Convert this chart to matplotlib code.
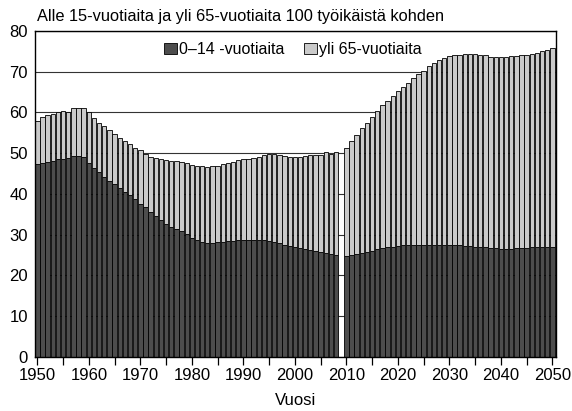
import matplotlib
matplotlib.use('Agg')
import matplotlib.pyplot as plt
from matplotlib.ticker import MultipleLocator

plt.rcParams['font.family'] = ['Liberation Sans', 'DejaVu Sans']

# vuodet: 1950-2008 toteutunut, 2010-2050 ennuste (2009 puuttuu -> rako)
vuodet = list(range(1950, 2009)) + list(range(2010, 2051))

# 0-14 -vuotiaita 100 työikäistä kohden
lapset = [47.4, 47.5, 47.9, 48.2, 48.5, 48.6, 48.8, 49.3, 49.3, 49.1,
          47.7, 46.5, 45.3, 44.2, 43.2, 42.4, 41.4, 40.6, 39.7, 38.7,
          37.6, 36.8, 35.7, 34.6, 33.6, 32.7, 31.9, 31.3, 30.8, 30.1,
          29.3, 28.6, 28.2, 28.0, 28.0, 28.2, 28.3, 28.4, 28.5, 28.6,
          28.6, 28.7, 28.7, 28.7, 28.6, 28.5, 28.3, 27.9, 27.5, 27.2,
          27.0, 26.8, 26.5, 26.3, 26.0, 25.7, 25.4, 25.2, 25.0,
          24.8, 25.0, 25.2, 25.5, 25.8, 26.1, 26.4, 26.7, 26.9, 27.1,
          27.3, 27.4, 27.5, 27.6, 27.6, 27.6, 27.6, 27.6, 27.6, 27.5,
          27.5, 27.4, 27.4, 27.3, 27.2, 27.1, 27.0, 26.9, 26.8, 26.7,
          26.6, 26.6, 26.6, 26.7, 26.7, 26.8, 26.9, 26.9, 27.0, 27.0,
          27.1]

# yli 65-vuotiaita 100 työikäistä kohden
vanhat = [10.4, 11.4, 11.5, 11.4, 11.5, 11.8, 11.4, 11.7, 11.7, 11.9,
          12.3, 12.1, 12.2, 12.5, 12.5, 12.3, 12.3, 12.3, 12.5, 12.7,
          13.2, 13.1, 13.4, 14.2, 14.9, 15.6, 16.3, 16.9, 17.1, 17.4,
          17.8, 18.3, 18.6, 18.7, 18.8, 18.7, 19.0, 19.3, 19.4, 19.7,
          20.0, 20.0, 20.1, 20.4, 20.9, 21.3, 21.5, 21.7, 21.9, 21.9,
          22.1, 22.3, 22.9, 23.3, 23.6, 23.9, 24.8, 24.7, 25.2,
          26.6, 27.9, 29.2, 30.6, 31.7, 32.9, 34.0, 35.1, 36.0, 37.0,
          38.0, 38.9, 39.8, 40.8, 41.8, 42.7, 43.8, 44.6, 45.2, 45.9,
          46.4, 46.7, 46.8, 47.1, 47.2, 47.3, 47.2, 47.1, 46.9, 46.9,
          47.0, 47.1, 47.2, 47.1, 47.3, 47.4, 47.5, 47.8, 48.1, 48.4,
          48.7]

fig = plt.figure(figsize=(5.72, 4.11), dpi=100)
ax = fig.add_axes([0.0612, 0.1314, 0.9108, 0.7932])

ax.bar(vuodet, lapset, width=0.85, color='#4d4d4d', edgecolor='black',
       linewidth=0.6, label='0–14 -vuotiaita', zorder=2)
ax.bar(vuodet, vanhat, width=0.85, bottom=lapset, color='#cacaca',
       edgecolor='black', linewidth=0.6, label='yli 65-vuotiaita', zorder=2)

ax.set_xlim(1949.55, 2050.7)
ax.set_ylim(0, 80)
ax.xaxis.set_major_locator(MultipleLocator(10))
ax.xaxis.set_minor_locator(MultipleLocator(5))
ax.yaxis.set_major_locator(MultipleLocator(10))
ax.tick_params(axis='x', which='both', direction='out', length=6, width=0.9,
               labelsize=12, pad=2)
ax.tick_params(axis='y', length=0, labelsize=12, pad=5)
ax.grid(axis='y', color='#333333', linewidth=0.8, zorder=0)
ax.set_axisbelow(True)
for s in ax.spines.values():
    s.set_linewidth(1.0)

ax.set_xlabel('Vuosi', fontsize=12, labelpad=7)
fig.text(37 / 572, 1 - 17 / 411, 'Alle 15-vuotiaita ja yli 65-vuotiaita 100 työikäistä kohden',
         fontsize=11.8, ha='left', va='center')

ax.legend(loc='upper center', bbox_to_anchor=(0.495, 1.0), ncol=2, frameon=False,
          fontsize=11.5, handlelength=0.8, handleheight=0.7, handletextpad=0.15,
          columnspacing=1.2, borderaxespad=0.3)

plt.savefig('out.png', dpi=100)
